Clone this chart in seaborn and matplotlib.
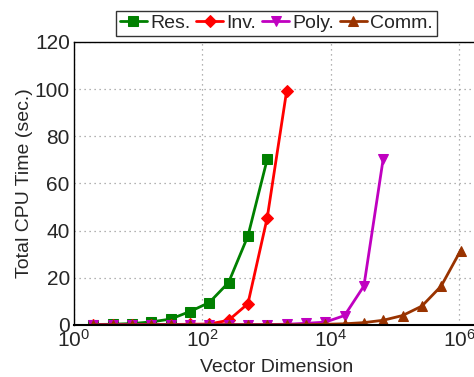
import matplotlib
matplotlib.use("Agg")
import matplotlib.pyplot as plt
import numpy as np
import pandas as pd
import seaborn as sns

# vector dimensions are powers of two
res_dim = [2 ** k for k in range(1, 11)]
res_time = [0.2, 0.3, 0.6, 1.3, 2.5, 5.7, 9.5, 18.0, 37.7, 70.3]

inv_dim = [2 ** k for k in range(1, 12)]
inv_time = [0.2, 0.2, 0.2, 0.2, 0.2, 0.3, 0.4, 2.0, 9.0, 45.5, 99.0]

poly_dim = [2 ** k for k in range(1, 17)]
poly_time = [0.2, 0.2, 0.2, 0.2, 0.2, 0.2, 0.2, 0.2, 0.2, 0.2, 0.3, 0.7, 1.2, 4.0, 16.5, 70.5]

comm_dim = [2 ** k for k in range(1, 21)]
comm_time = [0.1, 0.1, 0.1, 0.1, 0.1, 0.1, 0.1, 0.1, 0.1, 0.1, 0.1, 0.1,
             0.3, 0.5, 1.0, 2.0, 4.0, 8.0, 16.5, 31.5]

series = [
    ("Res.", res_dim, res_time, "#008000", "s"),
    ("Inv.", inv_dim, inv_time, "#ff0000", "D"),
    ("Poly.", poly_dim, poly_time, "#c000c0", "v"),
    ("Comm.", comm_dim, comm_time, "#993300", "^"),
]

sns.set_style("white")
plt.rcParams["font.family"] = ["Liberation Sans", "DejaVu Sans"]

fig = plt.figure(figsize=(4.74, 3.77), dpi=100)
ax = fig.add_axes([0.156, 0.138, 0.8536, 0.751])

for name, dims, times, color, marker in series:
    df = pd.DataFrame({"dim": dims, "time": times})
    sns.lineplot(data=df, x="dim", y="time", ax=ax, color=color, marker=marker,
                 markersize=7 if marker != "D" else 6, markeredgecolor=color,
                 linewidth=2, label=name)

ax.set_xscale("log")
ax.set_xlim(1, 2e6)
ax.set_ylim(0, 120)
ax.set_yticks(range(0, 121, 20))
ax.set_xticks([1, 1e2, 1e4, 1e6])
ax.xaxis.set_minor_locator(matplotlib.ticker.NullLocator())
ax.grid(True, linestyle=(0, (1, 3)), color="#999999", linewidth=0.9)
ax.tick_params(direction="in", labelsize=15, length=4, width=0.8, pad=3)
ax.set_xlabel("Vector Dimension", fontsize=14, labelpad=6)
ax.set_ylabel("Total CPU Time (sec.)", fontsize=14, labelpad=1)
for sp in ax.spines.values():
    sp.set_color("black")
    sp.set_linewidth(1)
ax.spines["bottom"].set_linewidth(1.5)

leg = ax.legend(loc="lower center", bbox_to_anchor=(0.5, 1.02), ncol=4,
                fontsize=14, frameon=True, fancybox=False, edgecolor="black",
                handlelength=1.4, handletextpad=0.15, columnspacing=0.3,
                borderpad=0.2, borderaxespad=0)
leg.get_frame().set_linewidth(1)

fig.savefig("out.png", dpi=100)
